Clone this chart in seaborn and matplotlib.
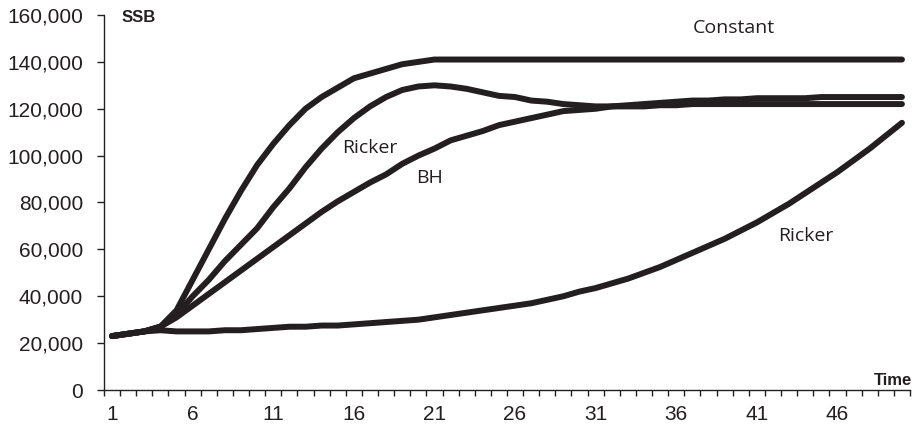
import numpy as np
import pandas as pd
import matplotlib
matplotlib.use("Agg")
import matplotlib.pyplot as plt
import seaborn as sns

time = list(range(1, 51))

constant = [23000, 24000, 25000, 27000, 34000, 47000, 60000, 73000, 85000, 96000,
            105000, 113000, 120000, 125000, 129000, 133000, 135000, 137000, 139000, 140000,
            141000, 141000, 141000, 141000, 141000, 141000, 141000, 141000, 141000, 141000,
            141000, 141000, 141000, 141000, 141000, 141000, 141000, 141000, 141000, 141000,
            141000, 141000, 141000, 141000, 141000, 141000, 141000, 141000, 141000, 141000]

ricker_fast = [23000, 24000, 25000, 27000, 32000, 40000, 47000, 55000, 62000, 69000,
               78000, 86000, 95000, 103000, 110000, 116000, 121000, 125000, 128000, 129500,
               130000, 129500, 128500, 127000, 125500, 125000, 123500, 123000, 122000, 121500,
               121000, 121000, 121000, 121000, 121500, 121500, 122000, 122000, 122000, 122000,
               122000, 122000, 122000, 122000, 122000, 122000, 122000, 122000, 122000, 122000]

bh = [23000, 24000, 25000, 27000, 31000, 36000, 41000, 46000, 51000, 56000,
      61000, 66000, 71000, 76000, 80500, 84500, 88500, 92000, 96500, 100000,
      103000, 106500, 108500, 110500, 113000, 114500, 116000, 117500, 119000, 119500,
      120000, 121000, 121500, 122000, 122500, 123000, 123500, 123500, 124000, 124000,
      124500, 124500, 124500, 124500, 125000, 125000, 125000, 125000, 125000, 125000]

ricker_slow = [23000, 24000, 25000, 25500, 25000, 25000, 25000, 25500, 25500, 26000,
               26500, 27000, 27000, 27500, 27500, 28000, 28500, 29000, 29500, 30000,
               31000, 32000, 33000, 34000, 35000, 36000, 37000, 38500, 40000, 42000,
               43500, 45500, 47500, 50000, 52500, 55500, 58500, 61500, 64500, 68000,
               71500, 75500, 79500, 84000, 88500, 93000, 98000, 103000, 108500, 114000]

series_names = ["Constant", "Ricker (fast)", "BH", "Ricker (slow)"]
series_values = [constant, ricker_fast, bh, ricker_slow]

x_tick_values = [1, 6, 11, 16, 21, 26, 31, 36, 41, 46]
y_tick_values = [0, 20000, 40000, 60000, 80000, 100000, 120000, 140000, 160000]

df = pd.DataFrame({
    "Time": np.tile(time, len(series_names)),
    "SSB": np.concatenate(series_values),
    "series": np.repeat(series_names, len(time)),
})

sns.set_style("white")
plt.rcParams["font.family"] = ["Liberation Sans", "DejaVu Sans"]

ink = "#231f20"
fig = plt.figure(figsize=(9.21, 4.36), dpi=100)
ax = fig.add_axes([104 / 921, 1 - 390 / 436, (910 - 104) / 921, (390 - 15) / 436])

sns.lineplot(data=df, x="Time", y="SSB", hue="series", units="series", estimator=None,
             palette={n: ink for n in series_names}, linewidth=4.3, legend=False,
             ax=ax, solid_capstyle="round", sort=False)

ax.set_xlim(0.5, 50.5)
ax.set_ylim(0, 160000)
ax.set_xlabel("")
ax.set_ylabel("")

ax.set_yticks(y_tick_values)
ax.set_yticklabels([f"{v:,}" for v in y_tick_values])
ax.set_xticks(x_tick_values)
ax.set_xticklabels([str(v) for v in x_tick_values])
ax.set_xticks(np.arange(0.5, 51, 1.0), minor=True)

ax.tick_params(axis="y", which="major", direction="out", length=5, width=1,
               color=ink, pad=10, labelsize=15, labelcolor=ink, left=True)
ax.tick_params(axis="x", which="major", length=0, pad=11, labelsize=15, labelcolor=ink,
               bottom=True)
ax.tick_params(axis="x", which="minor", direction="out", length=4.3, width=1,
               color=ink, bottom=True)

for side in ["top", "right"]:
    ax.spines[side].set_visible(False)
for side in ["left", "bottom"]:
    ax.spines[side].set_color(ink)
    ax.spines[side].set_linewidth(1)
ax.grid(False)

fig.text(122 / 921, 1 - 18 / 436, "SSB", fontsize=12, fontweight="bold",
         color=ink, ha="left", va="center")
fig.text(912 / 921, 1 - 380 / 436, "Time", fontsize=12, fontweight="bold",
         color=ink, ha="right", va="center")

label_font = ["Open Sans", "DejaVu Sans"]
ax.annotate("Constant", xy=(734, 436 - 28), xycoords="figure pixels", ha="center",
            va="center", fontsize=14, color=ink, family=label_font)
ax.annotate("Ricker", xy=(370, 436 - 148), xycoords="figure pixels", ha="center",
            va="center", fontsize=14, color=ink, family=label_font)
ax.annotate("BH", xy=(430, 436 - 178), xycoords="figure pixels", ha="center",
            va="center", fontsize=14, color=ink, family=label_font)
ax.annotate("Ricker", xy=(806, 436 - 236), xycoords="figure pixels", ha="center",
            va="center", fontsize=14, color=ink, family=label_font)

fig.savefig("out.png", dpi=100)
